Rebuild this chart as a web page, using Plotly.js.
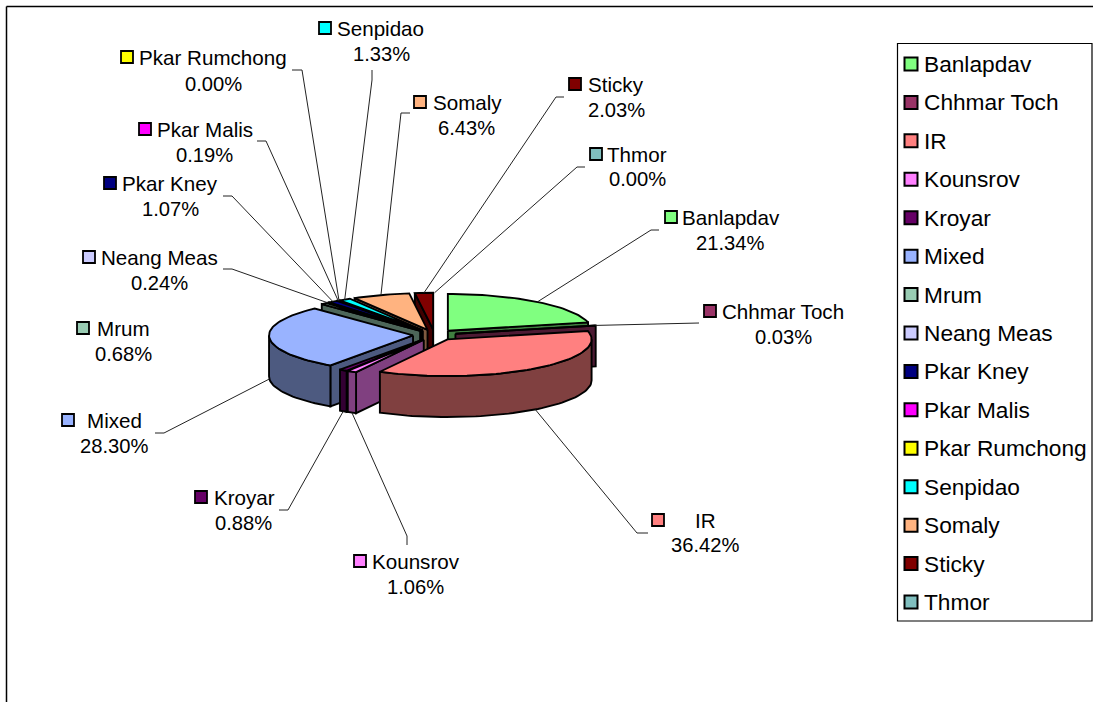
<!DOCTYPE html>
<html>
<head>
<meta charset="utf-8">
<script src="https://cdn.plot.ly/plotly-3.0.1.min.js"></script>
<style>html,body{margin:0;padding:0;background:#fff;overflow:hidden}#chart{width:1093px;height:702px}</style>
</head>
<body>
<div id="chart"></div>
<script>
// ---- data ----
const categories = ['Banlapdav','Chhmar Toch','IR','Kounsrov','Kroyar','Mixed','Mrum','Neang Meas','Pkar Kney','Pkar Malis','Pkar Rumchong','Senpidao','Somaly','Sticky','Thmor'];
const percents = [21.34,0.03,36.42,1.06,0.88,28.30,0.68,0.24,1.07,0.19,0.00,1.33,6.43,2.03,0.00];
const topColors = ['#80FF80','#993366','#FF8080','#FF80FF','#660066','#99B3FF','#99CCB3','#CCCCFF','#000080','#FF00FF','#FFFF00','#00FFFF','#FFB380','#800000','#80BFBF'];

// ---- styling / layout tables ----
const sideColors = ['#408040','#4D1A33','#804040','#804080','#330033','#4D5A80','#4D6659','#666680','#000040','#800080','#808000','#008080','#805A40','#400000','#406060'];
const drawOrder = ['Thmor','Sticky','Somaly','Senpidao','Pkar Rumchong','Pkar Malis','Pkar Kney','Neang Meas','Mrum','Banlapdav','Chhmar Toch','Mixed','Kroyar','Kounsrov','IR'];
const labelKeyX  = [671,710,658,360,201,68,83,89,110,145,127,325,420,575,596];
const labelKeyY  = [217,311,520,561,497,420,328,257,183,129,57,28,102,84,154];
const labelNameX = [682,722,695,372,214,87,97,101,122,157,139,337,433,588,607];
const labelPctX  = [730,783,705,415,243,114,123,159,170,204,213,381,466,616,637];
const labelPctY  = [243,337,545,587,523,446,354,283,209,155,84,54,128,110,179];
// leader polyline points on the label side (null = no leader)
const leaderHead = [
  [[659,230],[651,230]], [[699,323]], [[648,533],[637,533]], [[407,545],[407,536]], [[279,510],[288,510]],
  [[155,433],[164,433]], null, [[223,269],[232,269]], [[223,196],[232,196]], [[257,141],[266,141]],
  [[292,70],[302,70]], [[372,70],[372,80]], [[410,113],[401,113]], [[564,97],[556,97]], [[585,167],[577,167]]
];
const legendY0 = 64, legendStep = 38.43, legendKeyX = 911, legendTextX = 924;
const CX = 434.5, CY = 335, R = 144, K = 0.255, DEPTH = 41, EXPLODE = 21.5;
const NAME_FONT = 20.6, PCT_FONT = 20.2, LEGEND_FONT = 22.7;
const FONT = '"Liberation Sans", Arial, sans-serif';

// ---- geometry ----
const rad = d => d * Math.PI / 180;
const total = percents.reduce((a, b) => a + b, 0);
let acc = 0;
const slices = categories.map((name, i) => {
  const a1 = acc / total * 360; acc += percents[i]; const a2 = acc / total * 360;
  const mid = (a1 + a2) / 2;
  const ax = CX + EXPLODE * Math.sin(rad(mid));
  const ay = CY - EXPLODE * K * Math.cos(rad(mid));
  return {name, i, a1, a2, mid, ax, ay};
});
const rim = (s, deg) => [s.ax + R * Math.sin(rad(deg)), s.ay - R * K * Math.cos(rad(deg))];
function arc(s, from, to) {
  const n = Math.max(2, Math.ceil(Math.abs(to - from) / 2));
  const pts = [];
  for (let j = 0; j <= n; j++) pts.push(rim(s, from + (to - from) * j / n));
  return pts;
}
const traces = [];
function poly(pts, fill, name) {
  const x = pts.map(p => p[0]).concat([pts[0][0]]);
  const y = pts.map(p => p[1]).concat([pts[0][1]]);
  traces.push({type:'scatter', mode:'lines', x, y, fill:'toself', fillcolor:fill, name,
    line:{color:'#000', width:1.9}, showlegend:false, hoverinfo:'name'});
}
drawOrder.forEach(nm => {
  const s = slices[categories.indexOf(nm)];
  if (percents[s.i] <= 0) return;
  const side = sideColors[s.i];
  const cut = deg => { const r = rim(s, deg); return [[s.ax, s.ay], r, [r[0], r[1] + DEPTH], [s.ax, s.ay + DEPTH]]; };
  if (Math.sin(rad(s.a1)) < 0) poly(cut(s.a1), side, nm);
  if (Math.sin(rad(s.a2)) > -0.01) poly(cut(s.a2), side, nm);
  const f = Math.max(s.a1, 90), t = Math.min(s.a2, 270);
  if (f < t) {
    const up = arc(s, f, t);
    const down = up.slice().reverse().map(p => [p[0], p[1] + DEPTH]);
    poly(up.concat(down), side, nm);
  }
  poly([[s.ax, s.ay]].concat(arc(s, s.a1, s.a2)), topColors[s.i], nm);
});

// leaders: label side from the table, pie side computed from the slice
slices.forEach(s => {
  if (!leaderHead[s.i]) return;
  const e = rim(s, s.mid);
  const c = Math.cos(rad(s.mid));
  const end = [e[0], e[1] + (c < 0 ? DEPTH : 0)];
  const pts = leaderHead[s.i].concat([end]);
  traces.push({type:'scatter', mode:'lines', x:pts.map(p=>p[0]), y:pts.map(p=>p[1]),
    line:{color:'#222', width:1}, showlegend:false, hoverinfo:'skip'});
});

// keys
traces.push({type:'scatter', mode:'markers', x:labelKeyX, y:labelKeyY,
  marker:{symbol:'square', size:12, color:topColors, line:{color:'#000', width:1.8}}, showlegend:false, hoverinfo:'skip'});
const legendYs = categories.map((c, i) => legendY0 + i * legendStep);
traces.push({type:'scatter', mode:'markers', x:categories.map(() => legendKeyX), y:legendYs,
  marker:{symbol:'square', size:13, color:topColors, line:{color:'#000', width:2}}, showlegend:false, hoverinfo:'skip'});

const annotations = [];
const txt = (x, y, text, size, anchor) => annotations.push({x, y, text, xref:'x', yref:'y', showarrow:false,
  xanchor:anchor, yanchor:'middle', font:{family:FONT, size, color:'#000'}, borderpad:0, borderwidth:0});
categories.forEach((c, i) => {
  txt(labelNameX[i], labelKeyY[i], c, NAME_FONT, 'left');
  txt(labelPctX[i], labelPctY[i], percents[i].toFixed(2) + '%', PCT_FONT, 'center');
  txt(legendTextX, legendYs[i], c, LEGEND_FONT, 'left');
});

const layout = {
  width:1093, height:702, margin:{l:0,r:0,t:0,b:0,pad:0},
  paper_bgcolor:'#fff', plot_bgcolor:'#fff', showlegend:false, hovermode:'closest',
  xaxis:{range:[0,1093], visible:false, fixedrange:true},
  yaxis:{range:[702,0], visible:false, fixedrange:true},
  annotations,
  shapes:[
    {type:'line', x0:6.5, x1:1093, y0:6.5, y1:6.5, line:{color:'#000', width:1.5}, layer:'below'},
    {type:'line', x0:6.5, x1:6.5, y0:6.5, y1:702, line:{color:'#000', width:1.5}, layer:'below'},
    {type:'rect', x0:897.5, x1:1092, y0:43.5, y1:621, line:{color:'#000', width:1.2}, fillcolor:'#fff', layer:'below'}
  ]
};
Plotly.newPlot('chart', traces, layout, {displayModeBar:false});
</script>
</body>
</html>
